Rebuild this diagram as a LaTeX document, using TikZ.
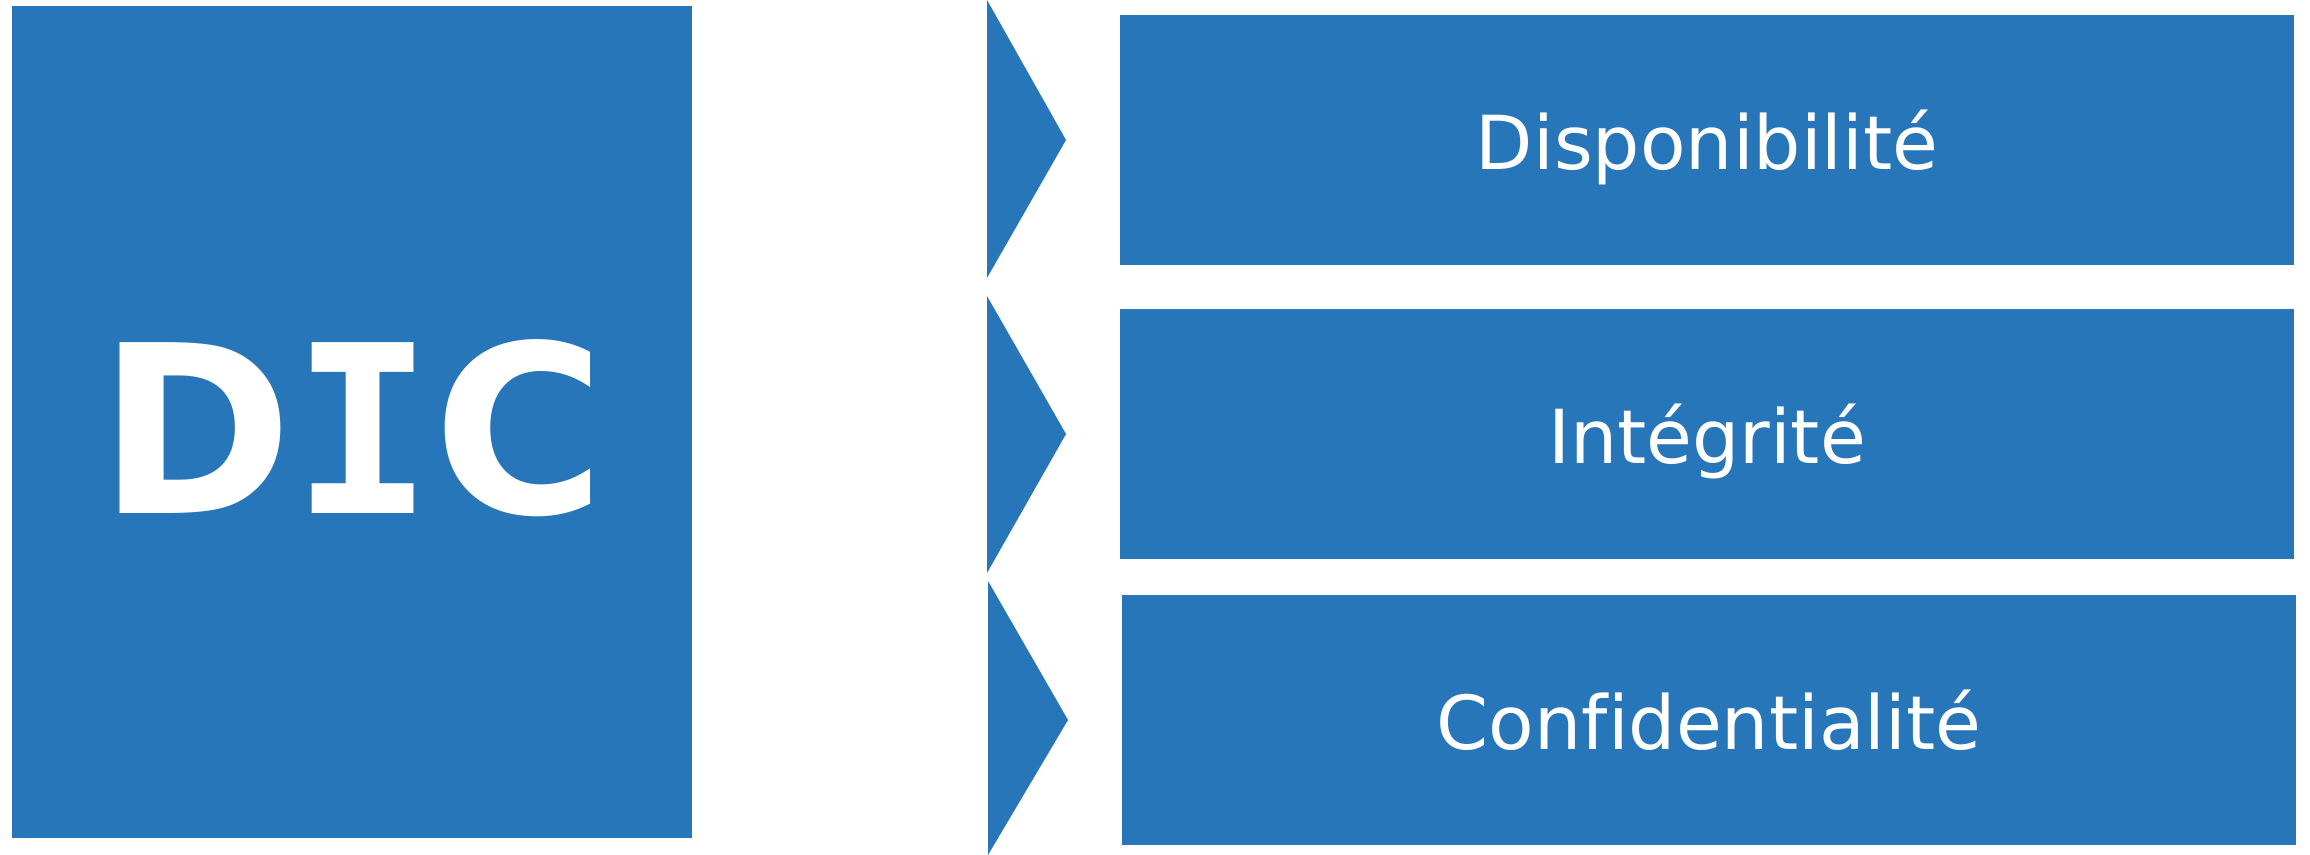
\documentclass[tikz,border=0pt]{standalone}
\usepackage{fontspec}
\setmainfont{DejaVu Sans}
\setmonofont{DejaVu Sans Mono}
\newfontfamily\critfont[Ligatures=NoCommon]{DejaVu Sans}
\usepackage{tikz}
\usetikzlibrary{positioning}

\definecolor{dicblue}{RGB}{40,118,186}

\tikzset{
  bloc/.style={fill=dicblue, draw=none, text=white, inner sep=0pt, anchor=center, text depth=0pt},
  critere/.style={bloc, minimum width=11.74cm, minimum height=2.5cm, text height=16.8pt,
    font=\critfont\fontsize{21.2}{25}\selectfont},
  chevron/.style={fill=dicblue, draw=none}
}

\begin{document}
\begin{tikzpicture}
\useasboundingbox (0,0) rectangle (23.10,8.55);

% bloc principal
\node[bloc, minimum width=6.80cm, minimum height=8.32cm, text height=52.3pt,
  font=\fontsize{66.7}{80}\selectfont\bfseries] (dic) at (3.52,4.33) {D{\ttfamily I}C};

% les trois criteres
\node[critere] (dispo) at (17.07,7.15) {Disponibilité};
\node[critere] (integ) at (17.07,4.21) {Intégrité};
\node[critere] (confid) at (17.09,1.35) {Confidentialité};

% fleches
\fill[chevron] (9.87,8.55) -- (10.66,7.15) -- (9.87,5.77) -- cycle;
\fill[chevron] (9.87,5.59) -- (10.66,4.21) -- (9.87,2.82) -- cycle;
\fill[chevron] (9.88,2.74) -- (10.68,1.35) -- (9.88,0.00) -- cycle;

\end{tikzpicture}
\end{document}
